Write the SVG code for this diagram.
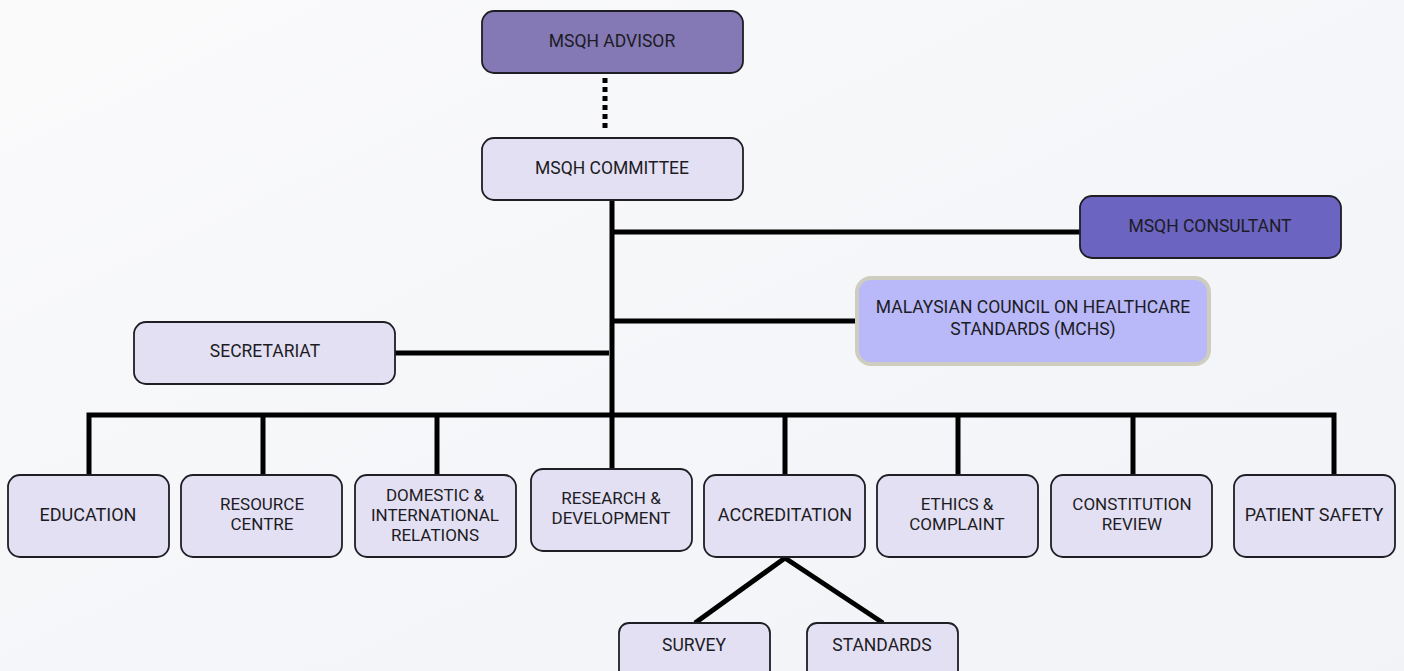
<svg xmlns="http://www.w3.org/2000/svg" width="1404" height="671" viewBox="0 0 1404 671">
<defs>
<linearGradient id="bg" x1="0" y1="0" x2="1" y2="1">
<stop offset="0" stop-color="#fafafb"/>
<stop offset="1" stop-color="#f1f3f7"/>
</linearGradient>
</defs>
<style>
.box{fill:#e4e0f3;stroke:#1e1e24;stroke-width:1.8}
.adv{fill:#8478b5;stroke:#1e1e24;stroke-width:1.8}
.con{fill:#6b64c1;stroke:#1e1e24;stroke-width:1.8}
.mchs{fill:#b9b8f9;stroke:#cfcdbf;stroke-width:4}
text{font-family:Roboto,"Liberation Sans",sans-serif;font-size:17.5px;fill:#1c1c24;text-anchor:middle}
.sm{font-size:18px}
.ml{font-size:17px}
.ln{stroke:#000;stroke-width:5;fill:none}
.dot{stroke:#000;stroke-width:5;fill:none;stroke-dasharray:5 4}
</style>
<rect x="0" y="0" width="1404" height="671" fill="url(#bg)"/>
<g id="connectors">
<line class="dot" x1="605" y1="78" x2="605" y2="132"/>
<line class="ln" x1="612" y1="200" x2="612" y2="417"/>
<line class="ln" x1="612" y1="232" x2="1081" y2="232"/>
<line class="ln" x1="612" y1="321" x2="857" y2="321"/>
<line class="ln" x1="395" y1="353" x2="609" y2="353"/>
<polyline class="ln" points="89,475 89,415 1334,415 1334,475"/>
<line class="ln" x1="263" y1="415" x2="263" y2="475"/>
<line class="ln" x1="437" y1="415" x2="437" y2="475"/>
<line class="ln" x1="612" y1="415" x2="612" y2="469"/>
<line class="ln" x1="785" y1="415" x2="785" y2="475"/>
<line class="ln" x1="958" y1="415" x2="958" y2="475"/>
<line class="ln" x1="1133" y1="415" x2="1133" y2="475"/>
<line class="ln" x1="785" y1="558" x2="695" y2="623"/>
<line class="ln" x1="785" y1="558" x2="883" y2="623"/>
</g>
<g id="advisor"><rect class="adv" x="482" y="11" width="261" height="62" rx="12"/><text x="612" y="47">MSQH ADVISOR</text></g>
<g id="committee"><rect class="box" x="482" y="138" width="261" height="62" rx="12"/><text x="612" y="174">MSQH COMMITTEE</text></g>
<g id="consultant"><rect class="con" x="1080" y="196" width="261" height="62" rx="12"/><text x="1210" y="232">MSQH CONSULTANT</text></g>
<g id="mchs"><rect class="mchs" x="857" y="278" width="352" height="86" rx="14"/><text x="1033" y="313">MALAYSIAN COUNCIL ON HEALTHCARE<tspan x="1033" dy="22">STANDARDS (MCHS)</tspan></text></g>
<g id="secretariat"><rect class="box" x="134" y="322" width="261" height="62" rx="12"/><text x="265" y="357">SECRETARIAT</text></g>
<g id="education"><rect class="box" x="8" y="475" width="161" height="82" rx="12"/><text class="sm" x="88" y="521">EDUCATION</text></g>
<g id="resource"><rect class="box" x="181" y="475" width="161" height="82" rx="12"/><text class="ml" x="262" y="510">RESOURCE<tspan x="262" dy="20.2">CENTRE</tspan></text></g>
<g id="domestic"><rect class="box" x="355" y="475" width="161" height="82" rx="12"/><text class="ml" x="435" y="501">DOMESTIC &amp;<tspan x="435" dy="20.2">INTERNATIONAL</tspan><tspan x="435" dy="20.2">RELATIONS</tspan></text></g>
<g id="research"><rect class="box" x="531" y="469" width="161" height="82" rx="12"/><text class="ml" x="611" y="504">RESEARCH &amp;<tspan x="611" dy="20.2">DEVELOPMENT</tspan></text></g>
<g id="accreditation"><rect class="box" x="704" y="475" width="161" height="82" rx="12"/><text class="sm" x="785" y="521">ACCREDITATION</text></g>
<g id="ethics"><rect class="box" x="877" y="475" width="161" height="82" rx="12"/><text class="ml" x="957" y="510">ETHICS &amp;<tspan x="957" dy="20.2">COMPLAINT</tspan></text></g>
<g id="constitution"><rect class="box" x="1051" y="475" width="161" height="82" rx="12"/><text class="ml" x="1132" y="510">CONSTITUTION<tspan x="1132" dy="20.2">REVIEW</tspan></text></g>
<g id="patient"><rect class="box" x="1234" y="475" width="161" height="82" rx="12"/><text class="sm" x="1314" y="521">PATIENT SAFETY</text></g>
<g id="survey"><rect class="box" x="619" y="623" width="151" height="60" rx="10"/><text x="694" y="651">SURVEY</text></g>
<g id="standards"><rect class="box" x="807" y="623" width="151" height="60" rx="10"/><text x="882" y="651">STANDARDS</text></g>
</svg>
